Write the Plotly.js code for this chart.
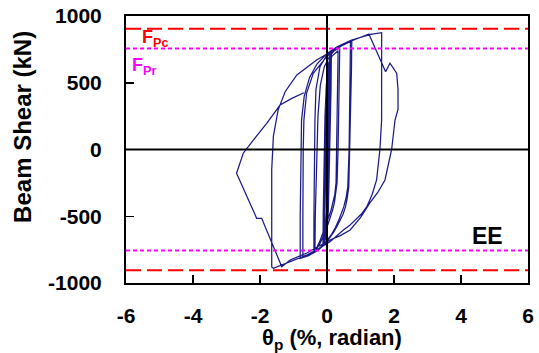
<!DOCTYPE html>
<html>
<head>
<meta charset="utf-8">
<script src="https://cdn.plot.ly/plotly-3.0.1.min.js"></script>
<style>
  html, body { margin: 0; padding: 0; background: #ffffff; }
  #chart { width: 539px; height: 353px; }
</style>
</head>
<body>
<div id="chart"></div>
<script>
// ---- data ----
// plastic rotation (% radian) along the loading history
const thetaP = [
  0.00, 0.02, 0.04, 0.06, 0.08, 0.07, 0.05, 0.03, 0.01, -0.03, -0.07, -0.06, -0.04, -0.02, 0.00, 0.04, 0.09, 0.08, 0.06, 0.04, 0.01, -0.03, -0.08, -0.07, -0.05, -0.03, 0.00, 0.05, 0.11, 0.10, 0.08, 0.06, 0.02, -0.03, -0.10, -0.09, -0.07, -0.05, -0.02, 0.03, 0.12, 0.11, 0.09, 0.07, 0.03, -0.03, -0.11, -0.10, -0.08, -0.06, -0.03, 0.02, 0.13, 0.12, 0.10, 0.08, 0.04, -0.02, -0.12,
  -0.11, -0.09, -0.06, -0.02, 0.05, 0.15, 0.33,
  0.32, 0.30, 0.29, 0.27, 0.23, 0.18, 0.12, 0.06, -0.01, -0.08, -0.15, -0.22, -0.29, -0.36,
  -0.35, -0.32, -0.30, -0.27, -0.20, -0.08, 0.08, 0.22, 0.38,
  0.37, 0.35, 0.33, 0.30, 0.26, 0.22, 0.16, 0.10, 0.03, -0.05, -0.12, -0.20, -0.30, -0.39,
  -0.39, -0.38, -0.36, -0.36, -0.33, -0.21, 0.00, 0.30, 0.55, 0.70,
  0.69, 0.68, 0.66, 0.62, 0.57, 0.50, 0.43, 0.35, 0.25, 0.15, 0.02, -0.10, -0.25, -0.40, -0.56, -0.72,
  -0.72, -0.72, -0.71, -0.69, -0.61, -0.41, -0.01, 0.35, 0.74,
  0.73, 0.71, 0.69, 0.65, 0.60, 0.55, 0.48, 0.40, 0.30, 0.20, 0.10, 0.00, -0.15, -0.30, -0.55, -0.80,
  -0.80, -0.79, -0.78, -0.76, -0.68, -0.52, -0.30, 0.00, 0.30, 0.70, 1.00, 1.30, 1.63,
  1.63, 1.63, 1.58, 1.48, 1.35, 1.19, 1.02, 0.85, 0.67, 0.49, 0.29, 0.09, -0.30, -0.60, -1.10, -1.60,
  -1.65, -1.66, -1.65, -1.60, -1.46, -1.25, -0.90, -0.31, 0.29, 0.80, 1.25,
  1.75, 1.88, 2.08, 2.12, 2.12, 2.03, 1.93, 1.73, 1.52, 1.28, 1.00, 0.69, 0.40, 0.09, -0.25, -0.60, -1.10, -1.35,
  -1.95, -2.10, -2.70, -2.50, -2.20, -1.80, -1.40, -1.05, -0.69
];
// beam shear (kN) at the same steps
const beamShear = [
  0, 250, 480, 620, 680, 450, 150, -150, -400, -580, -680, -450, -150, 150, 400, 580, 690, 450, 150, -150, -420, -600, -700, -450, -150, 150, 420, 600, 700, 450, 150, -150, -430, -620, -710, -450, -150, 150, 420, 610, 710, 450, 150, -150, -450, -640, -715, -450, -150, 150, 430, 620, 715, 450, 150, -150, -460, -650, -725,
  -450, -100, 250, 480, 630, 700, 740,
  550, 250, 0, -250, -340, -400, -455, -500, -550, -600, -648, -690, -727, -760,
  -500, -200, 0, 250, 480, 620, 700, 740, 760,
  550, 250, 0, -250, -340, -400, -460, -510, -560, -610, -650, -700, -740, -775,
  -500, -200, 0, 220, 450, 620, 710, 760, 790, 810,
  600, 300, 0, -280, -360, -430, -485, -530, -585, -630, -675, -710, -745, -770, -788, -800,
  -500, -200, 0, 220, 421, 570, 695, 770, 820,
  600, 300, 0, -280, -370, -430, -485, -528, -575, -620, -658, -690, -728, -760, -795, -815,
  -500, -200, 0, 220, 400, 540, 640, 720, 770, 815, 840, 862, 875,
  600, 221, 0, -228, -335, -428, -485, -530, -570, -603, -650, -690, -750, -790, -840, -890,
  -880, -500, -150, 100, 295, 433, 558, 670, 758, 820, 865,
  583, 646, 571, 450, 300, 221, 0, -228, -320, -400, -510, -603, -645, -678, -725, -775, -828, -878,
  -515, -515, -178, -28, 71, 196, 333, 383, 425
];
// reference strength levels (kN)
const fpcLevels = [905, -905];
const fprLevels = [757, -757];
// axis ticks
const xTickVals = [-6, -4, -2, 0, 2, 4, 6];
const xTickText = ['-6', '-4', '-2', '0', '2', '4', '6'];
const yTickVals = [-1000, -500, 0, 500, 1000];
const yTickText = ['-1000', '-500', '0', '500', '1000'];

// ---- chart ----
const FONT = 'Liberation Sans, Arial, sans-serif';
const traces = [{
  type: 'scatter', mode: 'lines',
  x: thetaP, y: beamShear,
  line: { color: '#1a1a88', width: 1.25 },
  hoverinfo: 'skip', showlegend: false
}];

const shapes = [];
fpcLevels.forEach(v => shapes.push({
  type: 'line', xref: 'paper', x0: 0, x1: 1, yref: 'y', y0: v, y1: v,
  line: { color: '#ff0000', width: 2, dash: '15px,6px' }, layer: 'above'
}));
fprLevels.forEach(v => shapes.push({
  type: 'line', xref: 'paper', x0: 0, x1: 1, yref: 'y', y0: v, y1: v,
  line: { color: '#ff00ff', width: 2, dash: '4px,3px' }, layer: 'above'
}));
// zero axes drawn on top of the curves
shapes.push({ type: 'line', xref: 'x', x0: 0, x1: 0, yref: 'paper', y0: 0, y1: 1,
  line: { color: '#000000', width: 2 }, layer: 'above' });
shapes.push({ type: 'line', xref: 'paper', x0: 0, x1: 1, yref: 'y', y0: 0, y1: 0,
  line: { color: '#000000', width: 2 }, layer: 'above' });

const tickFont = { family: FONT, size: 21, color: '#000000', weight: 'bold' };

const layout = {
  width: 539, height: 353,
  margin: { l: 126, r: 11, t: 16, b: 70, pad: 0 },
  paper_bgcolor: '#ffffff', plot_bgcolor: '#ffffff',
  showlegend: false,
  xaxis: {
    range: [-6, 6], tickmode: 'array', tickvals: xTickVals, ticktext: xTickText,
    ticks: 'inside', ticklen: 8, tickwidth: 1.5, tickcolor: '#000000',
    showline: true, linewidth: 2, linecolor: '#000000', mirror: true,
    showgrid: false, zeroline: false, tickfont: tickFont,
    ticklabelstandoff: 13, fixedrange: true
  },
  yaxis: {
    range: [-1000, 1000], tickmode: 'array', tickvals: yTickVals, ticktext: yTickText,
    ticks: 'inside', ticklen: 8, tickwidth: 1.5, tickcolor: '#000000',
    showline: true, linewidth: 2, linecolor: '#000000', mirror: true,
    showgrid: false, zeroline: false, tickfont: tickFont,
    ticklabelstandoff: 18, fixedrange: true
  },
  shapes: shapes,
  annotations: [
    { text: 'Beam Shear (kN)', xref: 'paper', yref: 'paper', x: -0.256, y: 0.585,
      xanchor: 'center', yanchor: 'middle', textangle: -90, showarrow: false,
      font: { family: FONT, size: 24, color: '#000000', weight: 'bold' } },
    { text: 'θ<sub>p</sub> (%, radian)', xref: 'paper', yref: 'paper', x: 0.512, y: -0.211,
      xanchor: 'center', yanchor: 'middle', showarrow: false,
      font: { family: FONT, size: 22, color: '#000000', weight: 'bold' } },
    { text: 'F<sub>Pc</sub>', xref: 'paper', yref: 'paper', x: 0.035, y: 0.915,
      xanchor: 'left', yanchor: 'middle', showarrow: false,
      font: { family: FONT, size: 18, color: '#ff0000', weight: 'bold' } },
    { text: 'F<sub>Pr</sub>', xref: 'paper', yref: 'paper', x: 0.01, y: 0.81,
      xanchor: 'left', yanchor: 'middle', showarrow: false,
      font: { family: FONT, size: 18, color: '#ff00ff', weight: 'bold' } },
    { text: 'EE', xref: 'paper', yref: 'paper', x: 0.9, y: 0.176,
      xanchor: 'center', yanchor: 'middle', showarrow: false,
      font: { family: FONT, size: 23, color: '#000000', weight: 'bold' } }
  ]
};

Plotly.newPlot('chart', traces, layout, { staticPlot: true, displayModeBar: false });
</script>
</body>
</html>
